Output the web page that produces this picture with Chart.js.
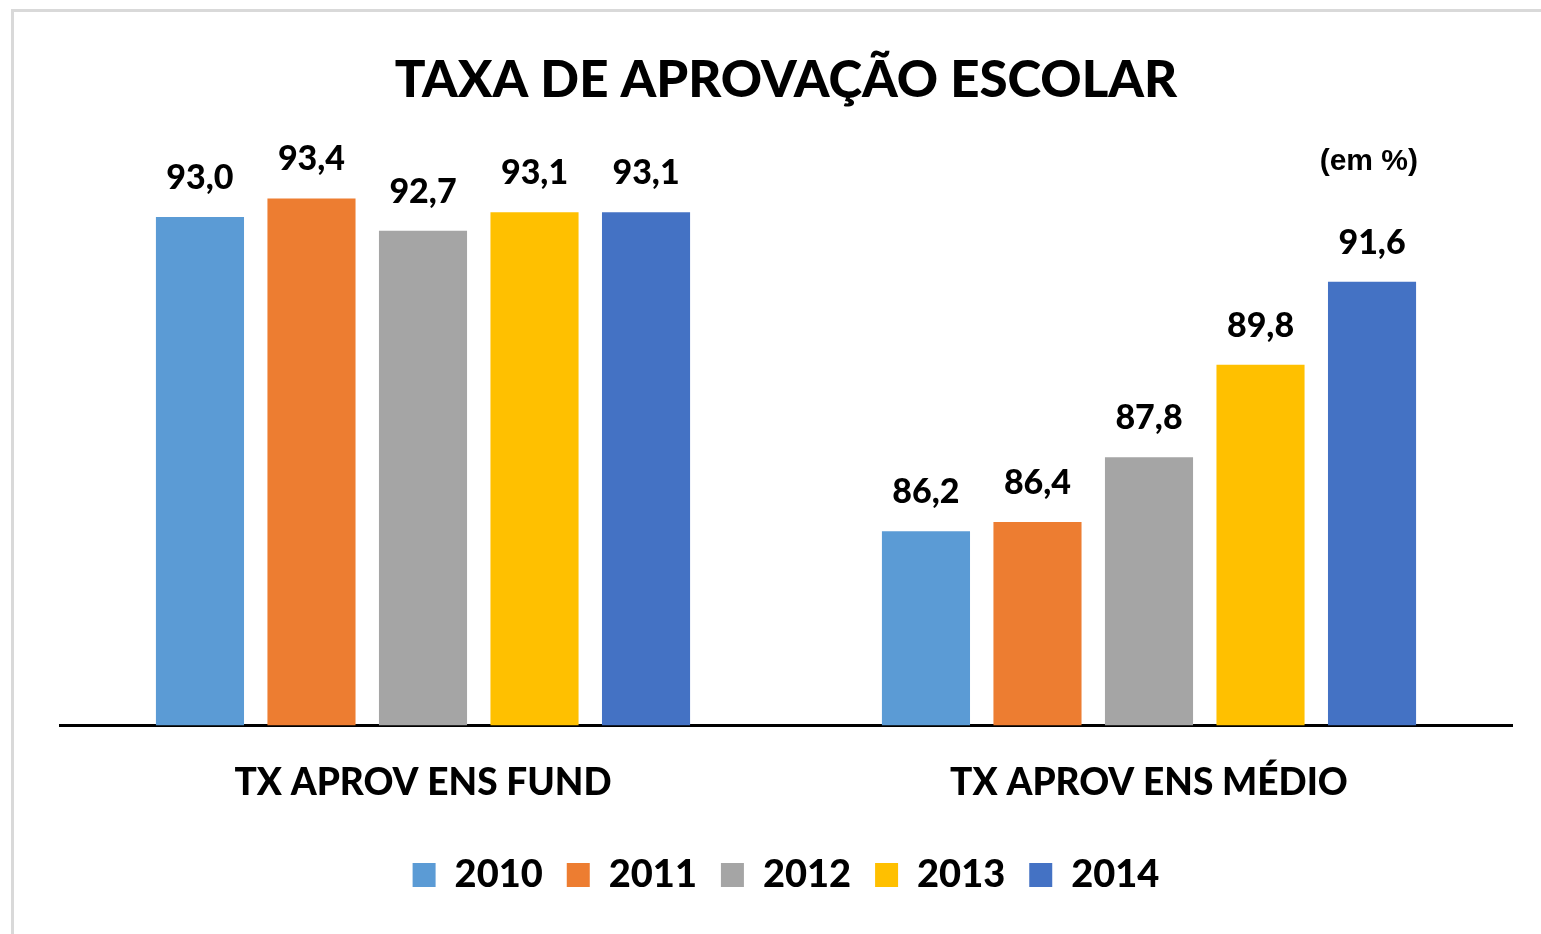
<!DOCTYPE html>
<html>
<head>
<meta charset="utf-8">
<script src="https://cdn.jsdelivr.net/npm/chart.js@4"></script>
<style>
    html, body { margin: 0; padding: 0; background: #fff; overflow: hidden; }
    #frame {
        position: absolute; left: 11px; top: 9px; width: 1600px; height: 1000px;
        border: 3px solid #d9d9d9; box-sizing: border-box;
    }
    #chart-container { position: absolute; left: 14px; top: 12px; width: 1544px; height: 922px; }
</style>
</head>
<body>
<div id="frame"></div>
<div id="chart-container"><canvas id="school-chart"></canvas></div>
<script>
const categories = ["TX APROV ENS FUND", "TX APROV ENS MÉDIO"];
const years = ["2010", "2011", "2012", "2013", "2014"];
const values2010 = [93.0, 86.2];
const values2011 = [93.4, 86.4];
const values2012 = [92.7, 87.8];
const values2013 = [93.1, 89.8];
const values2014 = [93.1, 91.6];
const colors = ["#5B9BD5", "#ED7D31", "#A5A5A5", "#FFC000", "#4472C4"];

const FONT = "Lato";
const WEIGHT = "900";

// value labels above each bar, comma decimal
const barLabels = {
    id: "barLabels",
    afterDatasetsDraw(chart) {
        const ctx = chart.ctx;
        ctx.save();
        ctx.font = WEIGHT + " 34px " + FONT;
        ctx.fillStyle = "#000";
        ctx.textAlign = "center";
        ctx.textBaseline = "alphabetic";
        chart.data.datasets.forEach((ds, i) => {
            chart.getDatasetMeta(i).data.forEach((bar, j) => {
                const text = ds.data[j].toFixed(1).replace(".", ",");
                ctx.fillText(text, bar.x, bar.y - 28);
            });
        });
        ctx.restore();
    },
};

// "(em %)" unit note
const unitNote = {
    id: "unitNote",
    afterDraw(chart) {
        const ctx = chart.ctx;
        ctx.save();
        ctx.font = "bold 30px 'Liberation Sans'";
        ctx.fillStyle = "#000";
        ctx.textAlign = "right";
        ctx.textBaseline = "middle";
        ctx.fillText("(em %)", chart.chartArea.right - 94, 150);
        ctx.restore();
    },
};

const seriesValues = [values2010, values2011, values2012, values2013, values2014];

const ctx = document.getElementById("school-chart").getContext("2d");
window.schoolChart = new Chart(ctx, {
    type: "bar",
    data: {
        labels: categories,
        datasets: years.map((year, i) => ({
            label: year,
            data: seriesValues[i],
            backgroundColor: colors[i],
            borderWidth: 0,
            categoryPercentage: 0.768,
            barPercentage: 0.79,
        })),
    },
    options: {
        responsive: true,
        maintainAspectRatio: false,
        animation: false,
        layout: {
            padding: { left: 46, right: 46, top: 0, bottom: 30 },
        },
        plugins: {
            title: {
                display: true,
                text: "TAXA DE APROVAÇÃO ESCOLAR",
                color: "#000",
                font: { family: FONT, size: 51, weight: WEIGHT },
                padding: { top: 38, bottom: 41 },
            },
            legend: {
                position: "bottom",
                labels: {
                    color: "#000",
                    font: { family: FONT, size: 38, weight: WEIGHT },
                    boxWidth: 23,
                    boxHeight: 24,
                    padding: 24,
                },
            },
            tooltip: { enabled: false },
        },
        scales: {
            x: {
                grid: { display: false },
                border: { display: true, color: "#000", width: 3 },
                ticks: {
                    color: "#000",
                    font: { family: FONT, size: 37, weight: WEIGHT, lineHeight: 0.99 },
                    padding: 31,
                },
            },
            y: {
                display: false,
                min: 82,
                max: 94.4,
            },
        },
    },
    plugins: [barLabels, unitNote],
});
</script>
</body>
</html>
